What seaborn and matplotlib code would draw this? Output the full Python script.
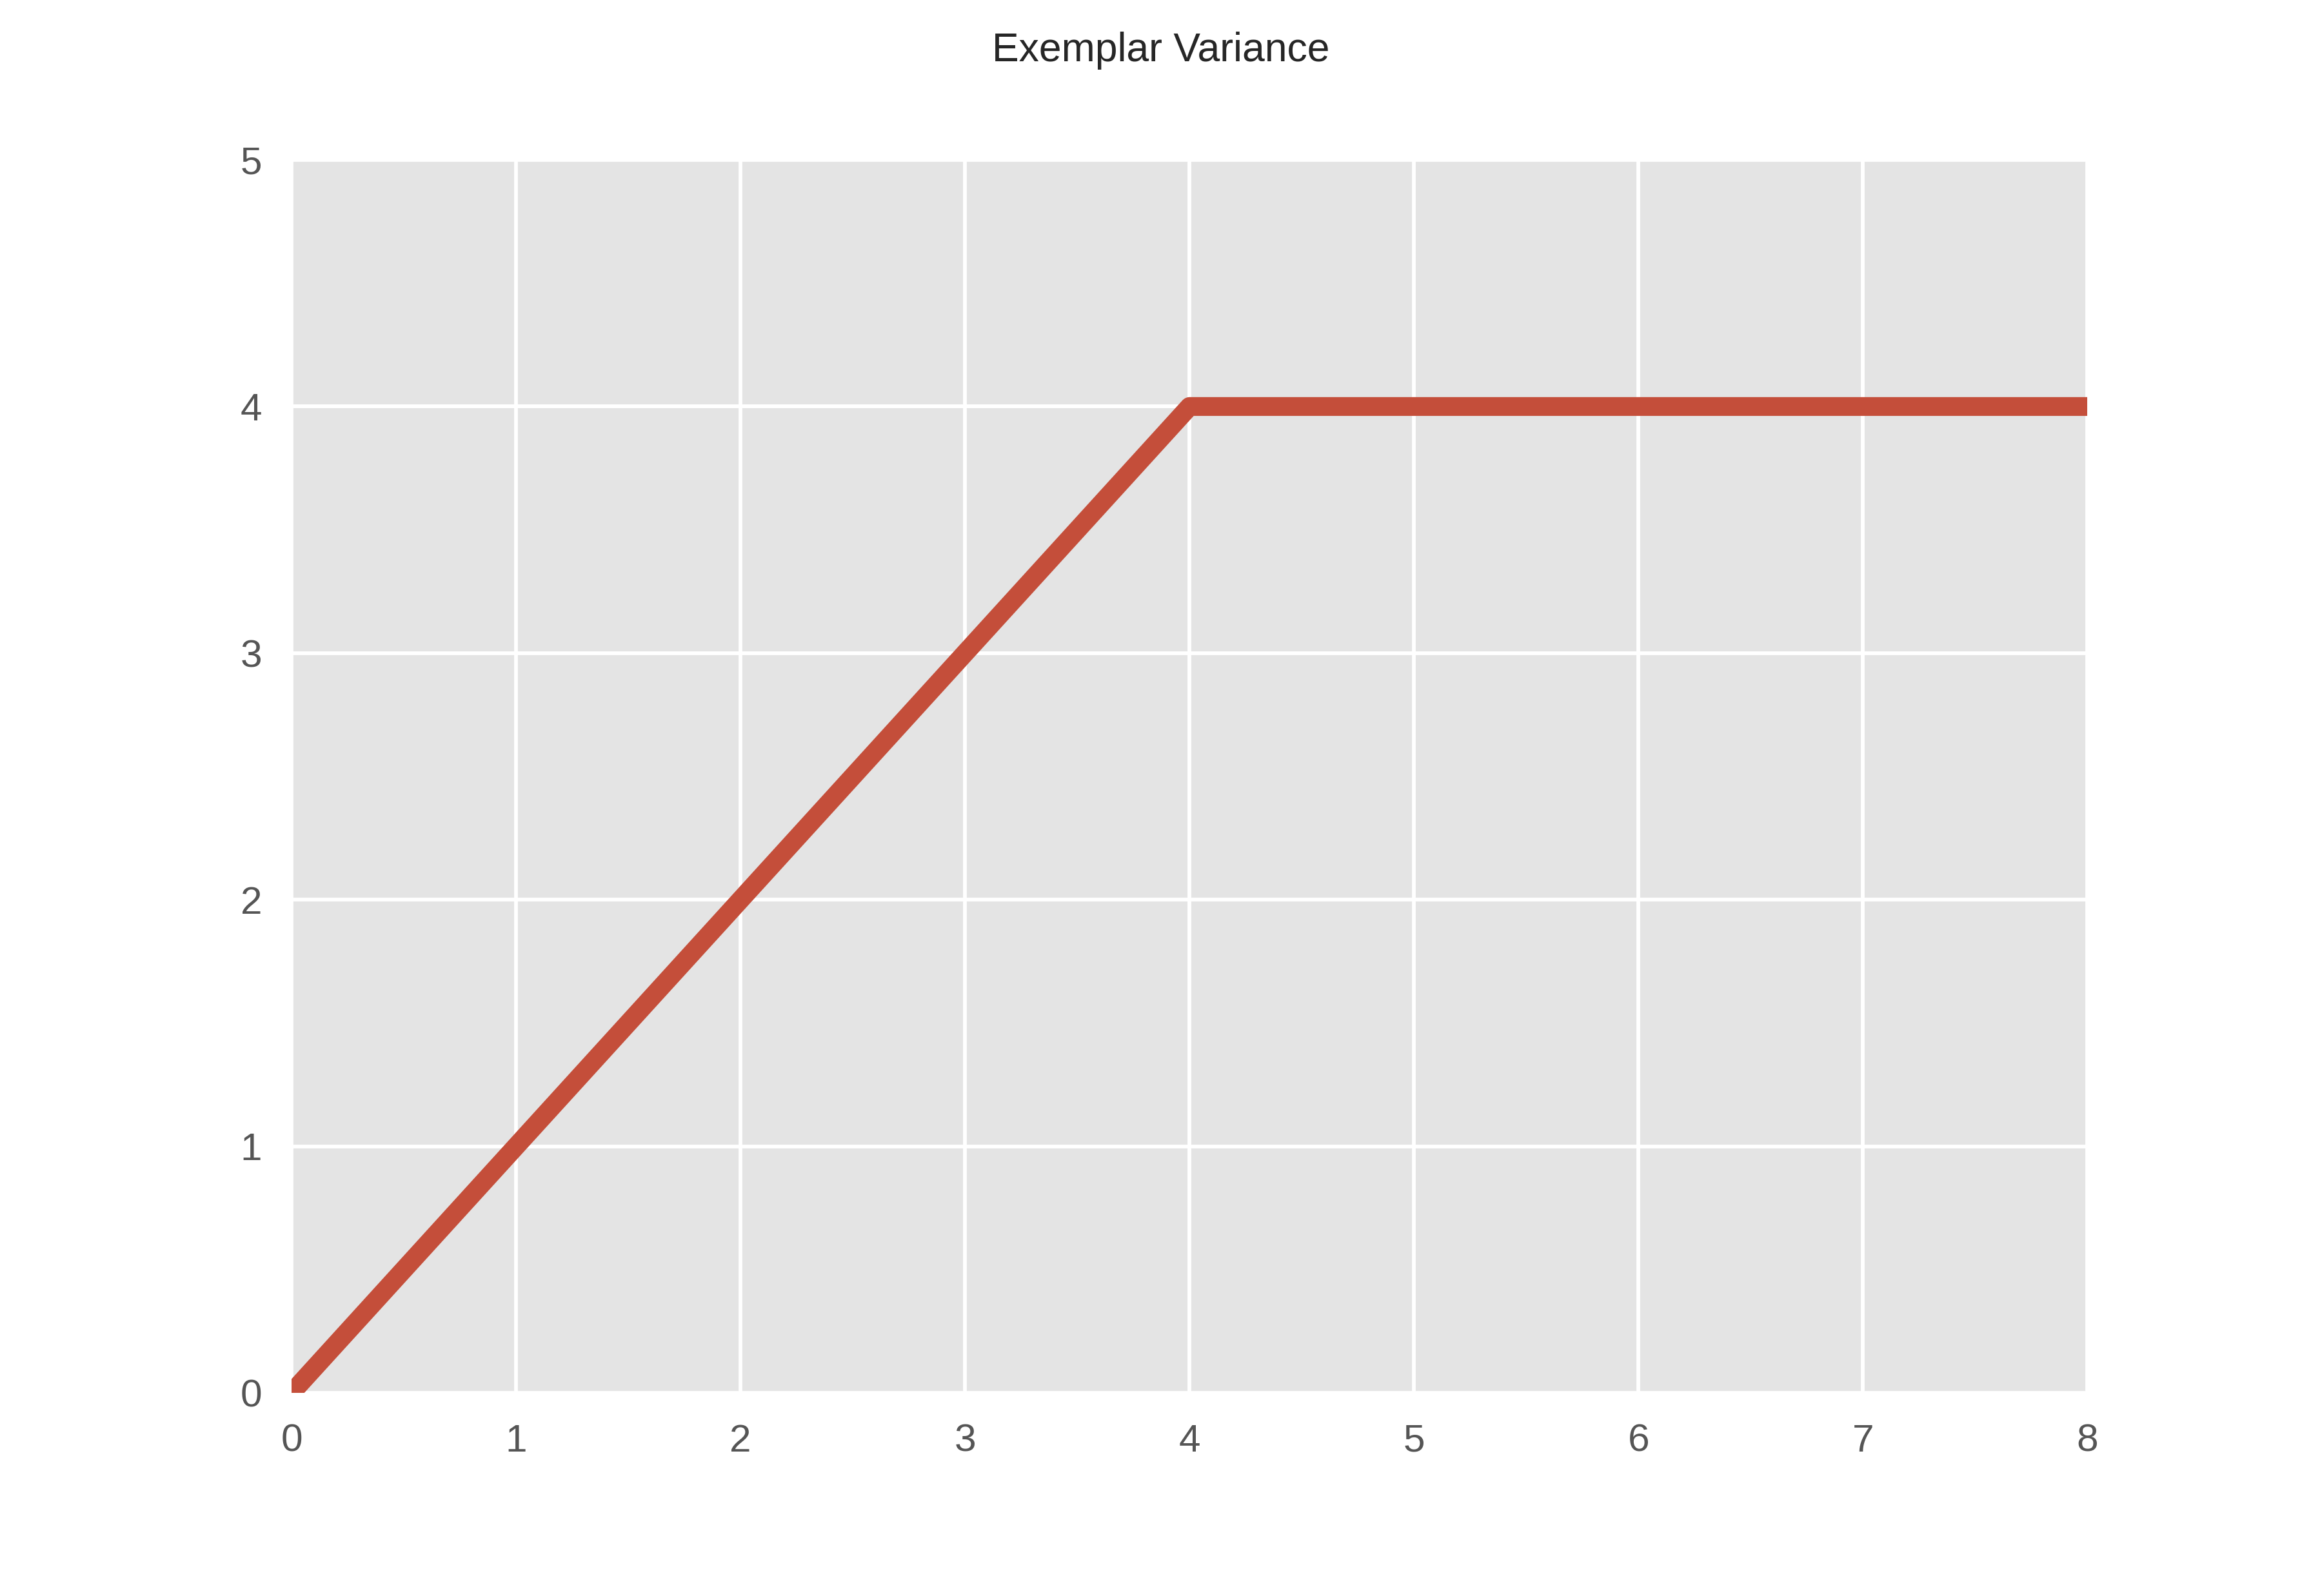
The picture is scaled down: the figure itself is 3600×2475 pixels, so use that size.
import numpy as np
import pandas as pd
import seaborn as sns
import matplotlib
matplotlib.use("Agg")
from matplotlib import pyplot as plt

steps = [0, 1, 2, 3, 4, 5, 6, 7, 8]
variance = [0, 1, 2, 3, 4, 4, 4, 4, 4]
x_ticks = [0, 1, 2, 3, 4, 5, 6, 7, 8]
y_ticks = [0, 1, 2, 3, 4, 5]

sns.set_theme(style="darkgrid", rc={
    "axes.facecolor": "#E4E4E4",
    "grid.color": "white",
    "grid.linewidth": 1.4,
    "axes.edgecolor": "none",
    "xtick.color": "#555555",
    "ytick.color": "#555555",
})
plt.rcParams['font.family'] = ['Liberation Sans', 'DejaVu Sans']

df = pd.DataFrame({'step': steps, 'variance': variance})

fig, ax = plt.subplots(figsize=(12, 8.25), dpi=300)
fig.subplots_adjust(left=0.1256, right=0.899, bottom=0.1273, top=0.8998)

sns.lineplot(data=df, x='step', y='variance', ax=ax, color='#C44E3A', linewidth=7)

ax.set_xlim(0, 8)
ax.set_ylim(0, 5)
ax.set_xticks(x_ticks)
ax.set_yticks(y_ticks)
ax.set_xlabel('')
ax.set_ylabel('')
ax.tick_params(axis='x', length=0, pad=11.5, labelsize=14.5)
ax.tick_params(axis='y', length=0, pad=11, labelsize=14.5)
for s in ax.spines.values():
    s.set_visible(False)

fig.suptitle('Exemplar Variance', fontsize=15, color='#262626')

plt.savefig('out.png', dpi=300)
